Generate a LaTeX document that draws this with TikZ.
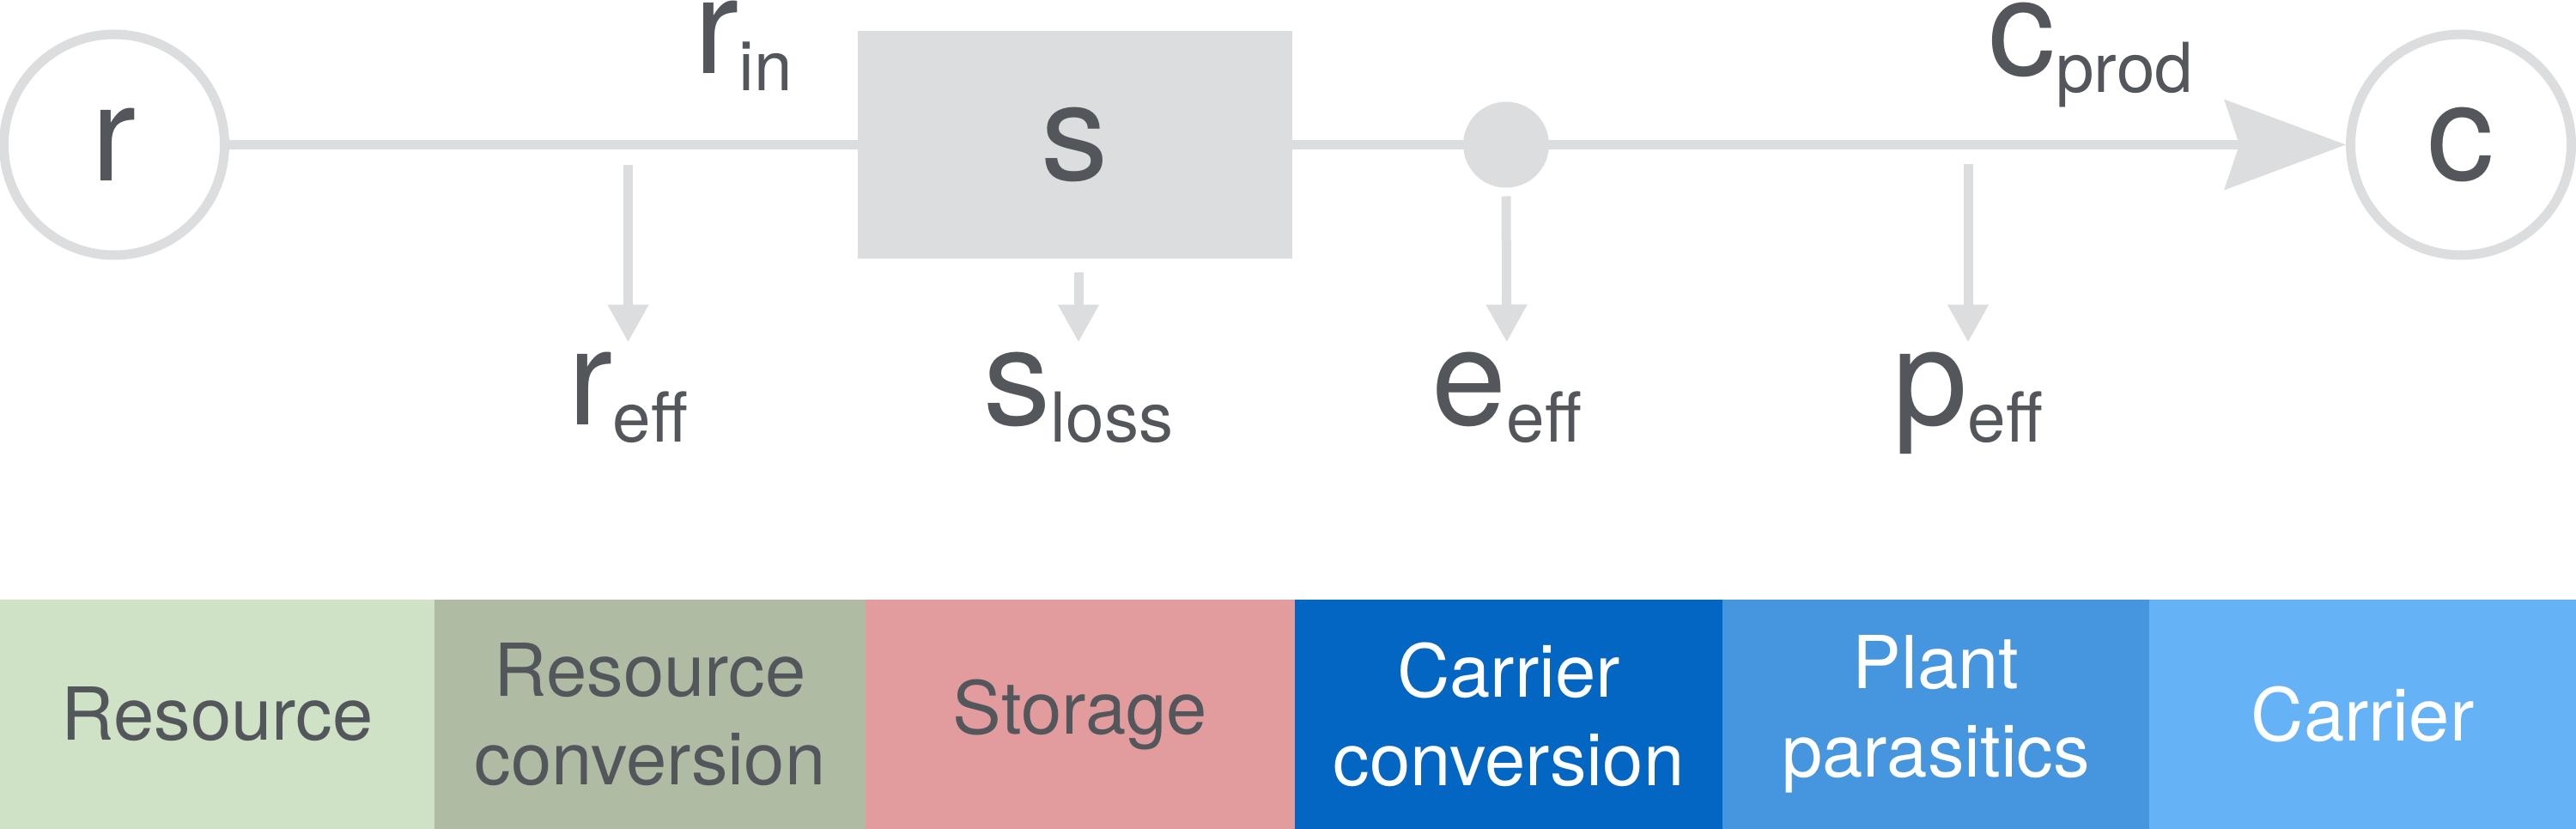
\documentclass[tikz,border=0pt]{standalone}
\usepackage{fontspec}
\setmainfont{TeX Gyre Heros}
\usetikzlibrary{positioning, arrows.meta}

\definecolor{flowgrey}{HTML}{DCDDDE}
\definecolor{inkgrey}{HTML}{53575C}
\definecolor{resourcecol}{HTML}{D0E2C5}
\definecolor{resconvcol}{HTML}{AFBCA3}
\definecolor{storagecol}{HTML}{E39C9E}
\definecolor{carconvcol}{HTML}{0366C2}
\definecolor{parasitcol}{HTML}{4595DF}
\definecolor{carriercol}{HTML}{65B2F6}

\newcommand{\bigsym}{\fontsize{44.6}{50}\selectfont}
\newcommand{\subsym}[1]{\raisebox{-2mm}{\fontsize{22.8}{26}\selectfont #1}}
\newcommand{\bandfont}{\fontsize{24.2}{29.3}\selectfont}

\begin{document}
\begin{tikzpicture}[
  every node/.style={
    text=inkgrey, inner sep=0pt, outer sep=0pt,
  },
  stock/.style={
    circle, draw=flowgrey, line width=1.1mm, outer sep=0.55mm,
    minimum size=25.7mm, font=\bigsym
  },
  storebox/.style={
    rectangle, fill=flowgrey, minimum width=50.6mm,
    minimum height=26.5mm, font=\bigsym
  },
  junction/.style={
    circle, fill=flowgrey, minimum size=10mm
  },
  flowlabel/.style={
    anchor=base, font=\bigsym
  },
  mainflow/.style={
    draw=flowgrey, line width=1.1mm
  },
  lossarrow/.style={
    draw=flowgrey, line width=1.1mm, shorten >=1.2mm,
    -{Triangle[length=4.4mm, width=4.5mm]}
  },
  band/.style={
    rectangle, minimum height=26.7mm, align=center, font=\bandfont
  }
  ]
  \useasboundingbox (0,0) rectangle (30,-9.65);

  % flow chain
  \node[stock] (r) at (1.33,-1.685) {r};
  \node[storebox, right=73.15mm of r] (s) {s};
  \node[junction, right=19.95mm of s] (hub) {};
  \node[stock, right=92.8mm of hub] (c) {c};

  \draw[mainflow] (r) -- (s);
  \draw[mainflow] (s) -- (hub);
  \draw[mainflow, -{Stealth[length=14.1mm, width=10.4mm, inset=1.7mm]}] (hub) -- (c);

  % flow names
  \node[flowlabel] (rin) at (8.66,-0.86) {r\subsym{in}};
  \node[flowlabel] (cprod) at (24.35,-0.88) {c\subsym{prod}};

  % losses
  \coordinate (reffsrc) at (7.315,-1.92);
  \coordinate (slosssrc) at (12.56,-3.17);
  \coordinate (eeffsrc) at ([yshift=-1mm]hub.south);
  \coordinate (peffsrc) at (22.92,-1.91);

  \node[flowlabel] (reff) at (7.315,-4.95) {r\subsym{eff}};
  \node[flowlabel] (sloss) at (12.56,-4.95) {s\subsym{loss}};
  \node[flowlabel] (eeff) at (17.55,-4.95) {e\subsym{eff}};
  \node[flowlabel] (peff) at (22.92,-4.95) {p\subsym{eff}};

  \draw[lossarrow] (reffsrc) -- (reff);
  \draw[lossarrow] (slosssrc) -- (sloss);
  \draw[lossarrow] (eeffsrc) -- (eeff);
  \draw[lossarrow] (peffsrc) -- (peff);

  % legend
  \node[band, fill=resourcecol, minimum width=50.6mm, anchor=north west] (resource) at (0,-6.98) {Resource};
  \node[band, fill=resconvcol, minimum width=50.2mm, right=0pt of resource] (resconv) {Resource\\conversion};
  \node[band, fill=storagecol, minimum width=50mm, right=0pt of resconv] (storage) {Storage};
  \node[band, fill=carconvcol, text=white, minimum width=49.8mm, right=0pt of storage] (carconv) {Carrier\\conversion};
  \node[band, fill=parasitcol, text=white, minimum width=49.7mm, right=0pt of carconv] (parasit) {Plant\\parasitics};
  \node[band, fill=carriercol, text=white, minimum width=49.7mm, right=0pt of parasit] (carrier) {Carrier};
\end{tikzpicture}
\end{document}
